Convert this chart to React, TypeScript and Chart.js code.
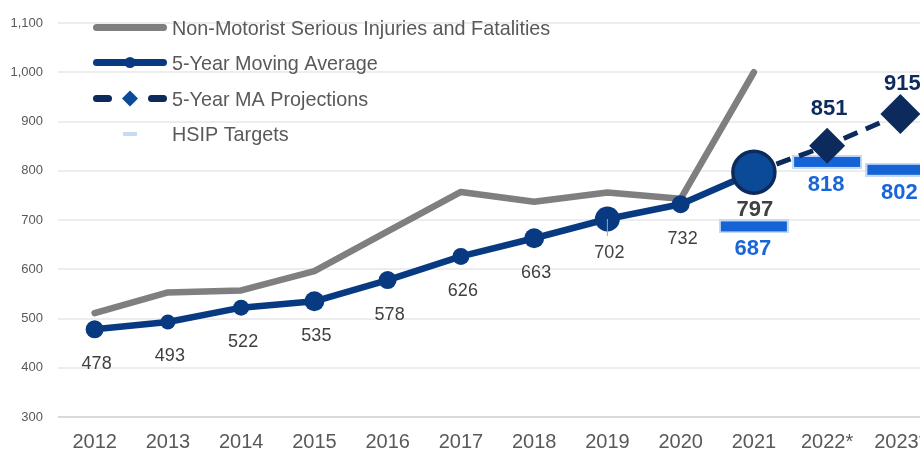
import { useEffect, useRef } from 'react';
import { Chart, registerables } from 'chart.js';

Chart.register(...registerables);

// ---------- data ----------
const years = ['2012', '2013', '2014', '2015', '2016', '2017', '2018', '2019', '2020', '2021', '2022*', '2023*'];
const nonMotorist = [511, 553, 557, 596, 677, 757, 737, 756, 743, 1000, null, null];
const movingAverage = [478, 493, 522, 535, 578, 626, 663, 702, 732, 797, null, null];
const maProjections = [null, null, null, null, null, null, null, null, null, 797, 851, 915];
const hsipTargets = [null, null, null, null, null, null, null, null, null, 687, 818, 802];
const yMin = 300;
const yMax = 1100;
const yStep = 100;
const legendLabels = [
  'Non-Motorist Serious Injuries and Fatalities',
  '5-Year Moving Average',
  '5-Year MA Projections',
  'HSIP Targets',
];

// ---------- styles ----------
const FONT = "'Liberation Sans', Arial, Helvetica, sans-serif";
const GRAY = '#7f7f7f';
const MA = '#083a82';
const MA_BIG_FILL = '#0a4a96';
const MA_BIG_BORDER = '#0c2b5c';
const PROJ = '#0c2a5b';
const TARGET_FILL = '#1663d6';
const TARGET_BORDER = '#c4d9f4';
const TEXT = '#595959';
const LABEL = '#404040';
const TARGET_LABEL = '#1a66d9';
const PROJ_LABEL = '#0d2b5e';

const CANVAS_W = 940;
const CANVAS_H = 451;

const maRadius = [9, 7.5, 8, 10, 9, 8.5, 10, 12.5, 9, 21, 0, 0];

function makeTargetMarker(): HTMLCanvasElement {
  const c = document.createElement('canvas');
  c.width = 70;
  c.height = 14;
  const ctx = c.getContext('2d')!;
  ctx.fillStyle = TARGET_BORDER;
  ctx.fillRect(0, 0, 70, 14);
  ctx.fillStyle = TARGET_FILL;
  ctx.fillRect(2, 2, 66, 10);
  return c;
}

type LabelStyle = { size: number; bold: boolean; color: string; dx: number; dy: number; leader?: boolean } | null;

const labelPlugin = {
  id: 'valueLabels',
  afterDatasetsDraw(chart: any) {
    const ctx = chart.ctx as CanvasRenderingContext2D;
    chart.data.datasets.forEach((ds: any, di: number) => {
      const cfg = ds.valueLabel as ((i: number) => LabelStyle) | undefined;
      if (!cfg) return;
      const meta = chart.getDatasetMeta(di);
      meta.data.forEach((pt: any, i: number) => {
        const v = ds.data[i];
        if (v == null) return;
        const s = cfg(i);
        if (!s) return;
        ctx.save();
        if (s.leader) {
          ctx.strokeStyle = '#a6a6a6';
          ctx.lineWidth = 1;
          ctx.beginPath();
          ctx.moveTo(pt.x, pt.y);
          ctx.lineTo(pt.x, pt.y + 17);
          ctx.stroke();
        }
        ctx.font = `${s.bold ? 'bold ' : ''}${s.size}px ${FONT}`;
        ctx.fillStyle = s.color;
        ctx.textAlign = 'center';
        ctx.textBaseline = 'alphabetic';
        const cy = pt.y + s.dy;
        ctx.fillText(String(v), pt.x + s.dx, cy + 0.358 * s.size);
        ctx.restore();
      });
    });
  },
};

const legendPlugin = {
  id: 'customLegend',
  afterDraw(chart: any) {
    const ctx = chart.ctx as CanvasRenderingContext2D;
    const ys = [27.5, 62.5, 98.5, 134];
    ctx.save();
    ctx.lineCap = 'round';
    // 1: gray line
    ctx.strokeStyle = GRAY;
    ctx.lineWidth = 7;
    ctx.beginPath();
    ctx.moveTo(96.5, ys[0]);
    ctx.lineTo(163.5, ys[0]);
    ctx.stroke();
    // 2: MA line with circle
    ctx.strokeStyle = MA;
    ctx.beginPath();
    ctx.moveTo(96.5, ys[1]);
    ctx.lineTo(163.5, ys[1]);
    ctx.stroke();
    ctx.fillStyle = MA;
    ctx.beginPath();
    ctx.arc(130, ys[1], 5.5, 0, Math.PI * 2);
    ctx.fill();
    // 3: dashed projections with diamond
    ctx.strokeStyle = PROJ;
    ctx.beginPath();
    ctx.moveTo(96.5, ys[2]);
    ctx.lineTo(108.5, ys[2]);
    ctx.moveTo(151.5, ys[2]);
    ctx.lineTo(163.5, ys[2]);
    ctx.stroke();
    ctx.fillStyle = MA_BIG_FILL;
    ctx.beginPath();
    ctx.moveTo(130, ys[2] - 8);
    ctx.lineTo(138, ys[2]);
    ctx.lineTo(130, ys[2] + 8);
    ctx.lineTo(122, ys[2]);
    ctx.closePath();
    ctx.fill();
    // 4: target dash
    ctx.lineCap = 'butt';
    ctx.strokeStyle = '#c6dbf3';
    ctx.lineWidth = 4;
    ctx.beginPath();
    ctx.moveTo(123, ys[3]);
    ctx.lineTo(137, ys[3]);
    ctx.stroke();
    // texts
    ctx.font = `19.8px ${FONT}`;
    ctx.fillStyle = TEXT;
    ctx.textAlign = 'left';
    ctx.textBaseline = 'alphabetic';
    legendLabels.forEach((t, i) => {
      ctx.fillText(t, 172, ys[i] + 7.2);
    });
    ctx.restore();
  },
};

export default function App() {
  const ref = useRef<HTMLCanvasElement>(null);

  useEffect(() => {
    Chart.defaults.font.family = FONT;
    const targetMarker = makeTargetMarker();
    const chart = new Chart(ref.current!, {
      type: 'line',
      data: {
        labels: years,
        datasets: [
          {
            label: legendLabels[1],
            data: movingAverage,
            borderColor: MA,
            borderWidth: 6.5,
            borderCapStyle: 'round',
            borderJoinStyle: 'round',
            pointRadius: maRadius,
            pointHoverRadius: maRadius,
            pointBackgroundColor: movingAverage.map((_, i) => (i === 9 ? MA_BIG_FILL : MA)),
            pointBorderColor: movingAverage.map((_, i) => (i === 9 ? MA_BIG_BORDER : MA)),
            pointBorderWidth: movingAverage.map((_, i) => (i === 9 ? 3.5 : 0)),
            valueLabel: (i: number): LabelStyle =>
              i === 9
                ? { size: 22, bold: true, color: LABEL, dx: 1, dy: 35.5 }
                : { size: 18, bold: false, color: LABEL, dx: 2, dy: 33, leader: i === 7 },
          } as any,
          {
            label: legendLabels[2],
            data: maProjections,
            borderColor: PROJ,
            borderWidth: 5,
            borderDash: [15, 9],
            pointStyle: 'rectRot',
            pointRadius: maProjections.map((_, i) => (i === 10 ? 18 : i === 11 ? 20 : 0)),
            pointBackgroundColor: PROJ,
            pointBorderWidth: 0,
            valueLabel: (i: number): LabelStyle =>
              i === 9 ? null : { size: 22, bold: true, color: PROJ_LABEL, dx: 2, dy: i === 10 ? -39 : -32 },
          } as any,
          {
            label: legendLabels[3],
            data: hsipTargets,
            showLine: false,
            pointStyle: targetMarker,
            pointRadius: 30,
            pointBorderWidth: 0,
            valueLabel: (): LabelStyle => ({ size: 22, bold: true, color: TARGET_LABEL, dx: -1, dy: 21 }),
          } as any,
          {
            label: legendLabels[0],
            data: nonMotorist,
            borderColor: GRAY,
            borderWidth: 6.5,
            borderCapStyle: 'round',
            borderJoinStyle: 'round',
            pointRadius: 0,
          } as any,
        ],
      },
      options: {
        animation: false,
        responsive: false,
        layout: { autoPadding: false, padding: { top: 23, right: 3, left: 0, bottom: 0 } },
        plugins: {
          legend: { display: false },
          tooltip: { enabled: false },
          title: { display: false },
        },
        scales: {
          x: {
            offset: true,
            grid: { display: false, drawTicks: false },
            border: { display: false },
            ticks: { color: TEXT, font: { size: 20 }, padding: 13, maxRotation: 0, autoSkip: false },
            afterFit(s: any) {
              s.height = 34;
            },
          },
          y: {
            min: yMin,
            max: yMax,
            ticks: {
              stepSize: yStep,
              color: TEXT,
              font: { size: 13 },
              padding: 15,
              callback: (v: any) => Number(v).toLocaleString('en-US'),
            },
            grid: {
              color: (c: any) => (c.tick && c.tick.value === yMin ? '#d9d9d9' : '#ededed'),
              lineWidth: 2,
              drawTicks: false,
            },
            border: { display: false },
            afterFit(s: any) {
              s.width = 58;
            },
          },
        },
      } as any,
      plugins: [labelPlugin, legendPlugin],
    });
    return () => chart.destroy();
  }, []);

  return (
    <div
      style={{
        position: 'fixed',
        left: 0,
        top: 0,
        width: 920,
        height: 451,
        overflow: 'hidden',
        background: '#fff',
      }}
    >
      <canvas
        ref={ref}
        width={CANVAS_W}
        height={CANVAS_H}
        style={{ display: 'block', width: CANVAS_W, height: CANVAS_H }}
      />
    </div>
  );
}
